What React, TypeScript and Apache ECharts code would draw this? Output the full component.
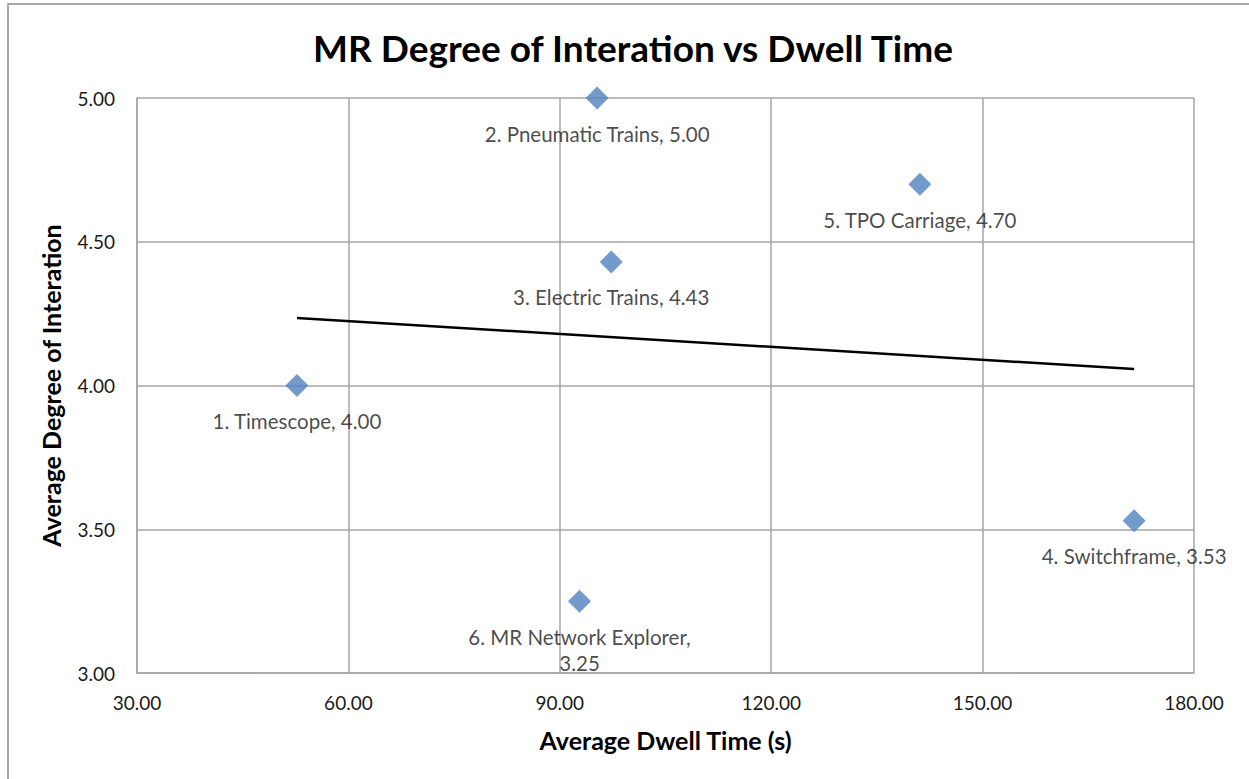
import React, { useEffect, useRef } from "react";
import * as echarts from "echarts";

const pointNames = [
  "1. Timescope",
  "2. Pneumatic Trains",
  "3. Electric Trains",
  "4. Switchframe",
  "5. TPO Carriage",
  "6. MR Network Explorer",
];
const dwellTime = [52.7, 95.3, 97.3, 171.5, 141.1, 92.8];
const interaction = [4.0, 5.0, 4.43, 3.53, 4.7, 3.25];
const wrapLabel = [false, false, false, false, false, true];

const xTicks = { min: 30, max: 180, interval: 30 };
const yTicks = { min: 3, max: 5, interval: 0.5 };

const FONT = "Lato, 'Open Sans', sans-serif";

function linearFit(xs: number[], ys: number[]) {
  const n = xs.length;
  const mx = xs.reduce((a, b) => a + b, 0) / n;
  const my = ys.reduce((a, b) => a + b, 0) / n;
  let sxy = 0;
  let sxx = 0;
  for (let i = 0; i < n; i++) {
    sxy += (xs[i] - mx) * (ys[i] - my);
    sxx += (xs[i] - mx) * (xs[i] - mx);
  }
  const slope = sxy / sxx;
  return (x: number) => my + slope * (x - mx);
}

export default function App() {
  const ref = useRef<HTMLDivElement>(null);

  useEffect(() => {
    if (!ref.current) return;
    const chart = echarts.init(ref.current, null, { renderer: "svg" });

    const fit = linearFit(dwellTime, interaction);
    const xMin = Math.min(...dwellTime);
    const xMax = Math.max(...dwellTime);

    const scatterData = dwellTime.map((x, i) => ({
      value: [x, interaction[i]],
      name: pointNames[i],
      label: {
        formatter: wrapLabel[i]
          ? `${pointNames[i]},\n${interaction[i].toFixed(2)}`
          : `${pointNames[i]}, ${interaction[i].toFixed(2)}`,
      },
    }));

    chart.setOption({
      animation: false,
      backgroundColor: "#ffffff",
      title: {
        text: "MR Degree of Interation vs Dwell Time",
        left: 628,
        textAlign: "center",
        top: 24,
        textStyle: {
          fontFamily: FONT,
          fontSize: 37,
          fontWeight: "bold",
          color: "#000000",
        },
      },
      graphic: [
        {
          type: "rect",
          shape: { x: 8, y: 4, width: 1260, height: 800 },
          style: { fill: "none", stroke: "#8c8c8c", lineWidth: 1.5 },
          silent: true,
        },
      ],
      grid: { left: 137, right: 55, top: 98, bottom: 106, containLabel: false },
      xAxis: {
        type: "value",
        min: xTicks.min,
        max: xTicks.max,
        interval: xTicks.interval,
        name: "Average Dwell Time (s)",
        nameLocation: "middle",
        nameGap: 54,
        nameTextStyle: {
          fontFamily: FONT,
          fontSize: 25,
          fontWeight: "bold",
          color: "#000000",
        },
        axisLine: { show: true, lineStyle: { color: "#a6a6a6", width: 1.5 } },
        axisTick: { show: false },
        splitLine: { show: true, lineStyle: { color: "#a6a6a6", width: 1.5 } },
        axisLabel: {
          formatter: (v: number) => v.toFixed(2),
          fontFamily: FONT,
          fontSize: 19,
          color: "#1a1a1a",
          margin: 20,
        },
      },
      yAxis: {
        type: "value",
        min: yTicks.min,
        max: yTicks.max,
        interval: yTicks.interval,
        name: "Average Degree of Interation",
        nameLocation: "middle",
        nameGap: 74,
        nameTextStyle: {
          fontFamily: FONT,
          fontSize: 25,
          fontWeight: "bold",
          color: "#000000",
        },
        axisLine: { show: true, lineStyle: { color: "#a6a6a6", width: 1.5 } },
        axisTick: { show: false },
        splitLine: { show: true, lineStyle: { color: "#a6a6a6", width: 1.5 } },
        axisLabel: {
          formatter: (v: number) => v.toFixed(2),
          fontFamily: FONT,
          fontSize: 19,
          color: "#1a1a1a",
          margin: 22,
        },
      },
      series: [
        {
          type: "line",
          data: [
            [xMin, fit(xMin)],
            [xMax, fit(xMax)],
          ],
          showSymbol: false,
          symbol: "none",
          lineStyle: { color: "#000000", width: 2.5 },
          z: 2,
          silent: true,
        },
        {
          type: "scatter",
          data: scatterData,
          symbol: "diamond",
          symbolSize: 23,
          clip: false,
          itemStyle: { color: "#4f81bd" },
          z: 3,
          label: {
            show: true,
            position: "bottom",
            distance: 11,
            fontFamily: FONT,
            fontSize: 20.5,
            lineHeight: 26,
            color: "#1a1a1a",
            align: "center",
          },
        },
      ],
    });

    return () => chart.dispose();
  }, []);

  return (
    <div
      ref={ref}
      style={{ position: "fixed", left: 0, top: 0, width: 1249, height: 779 }}
    />
  );
}
